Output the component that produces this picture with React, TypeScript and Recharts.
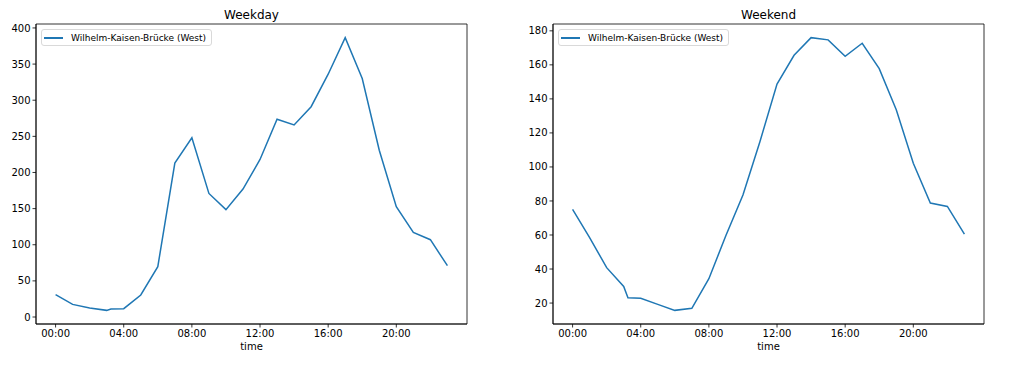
import React from "react";
import { LineChart, Line, XAxis, YAxis, Legend, ReferenceArea } from "recharts";

// ── Data ──────────────────────────────────────────────────────────────────────
const HOURS = [0, 1, 2, 3, 3.25, 4, 5, 6, 7, 8, 9, 10, 11, 12, 13, 14, 15, 16, 17, 18, 19, 20, 21, 22, 23];
const WEEKDAY = [31, 17.5, 12.5, 9.2, 11.2, 11.5, 30.5, 69.7, 213, 248, 171, 148.6, 177, 218, 273.6, 265.7, 291, 336, 386.6, 330, 230.7, 152.7, 117.2, 107, 71];
const WEEKEND = [75, 58.5, 40.8, 29.8, 23.1, 22.75, 19.2, 15.7, 16.9, 34.3, 59.7, 83.5, 115, 148.7, 165.6, 176, 174.7, 165, 172.7, 157.8, 133.6, 102.2, 78.8, 76.8, 60.5];
const X_TICKS = [0, 4, 8, 12, 16, 20];
const X_TICK_LABELS = ["00:00", "04:00", "08:00", "12:00", "16:00", "20:00"];
const WEEKDAY_Y_TICKS = [0, 50, 100, 150, 200, 250, 300, 350, 400];
const WEEKEND_Y_TICKS = [20, 40, 60, 80, 100, 120, 140, 160, 180];
const SERIES_NAME = "Wilhelm-Kaisen-Brücke (West)";

// ── Theme ─────────────────────────────────────────────────────────────────────
const FONT = "'DejaVu Sans', sans-serif";
const LINE_COLOR = "#1f77b4";
const AXIS = { stroke: "#000", strokeWidth: 0.8 };
const TICK = { fill: "#000", fontSize: 10, fontFamily: FONT };
const H = 371;
const PLOT_TOP = 24;
const PLOT_BOTTOM = 324;

// matplotlib-style 5% padding around the data range
function padDomain(values: number[]): [number, number] {
  const lo = Math.min(...values);
  const hi = Math.max(...values);
  const m = (hi - lo) * 0.05;
  return [lo - m, hi + m];
}

const X_DOMAIN = padDomain(HOURS);

function LegendBox() {
  return (
    <div
      style={{
        display: "flex",
        alignItems: "center",
        width: 171,
        height: 17,
        boxSizing: "border-box",
        border: "1px solid #d9d9d9",
        borderRadius: 3,
        background: "rgba(255,255,255,0.8)",
        fontFamily: FONT,
        fontSize: 9,
        color: "#000",
        whiteSpace: "nowrap",
      }}
    >
      <span style={{ display: "inline-block", width: 19, height: 2, background: LINE_COLOR, marginLeft: 2, marginRight: 8 }} />
      <span>{SERIES_NAME}</span>
    </div>
  );
}

function Panel({
  title,
  values,
  yTicks,
  left,
  width,
  yWidth,
  marginRight,
}: {
  title: string;
  values: number[];
  yTicks: number[];
  left: number;
  width: number;
  yWidth: number;
  marginRight: number;
}) {
  const data = HOURS.map((h, i) => ({ hour: h, value: values[i] }));
  const yDomain = padDomain(values);
  const plotCenter = yWidth + (width - yWidth - marginRight) / 2;

  return (
    <div style={{ position: "absolute", left, top: 0, width, height: H }}>
      <div
        style={{
          position: "absolute",
          left: plotCenter - 100,
          width: 200,
          top: 7,
          textAlign: "center",
          fontFamily: FONT,
          fontSize: 12,
          lineHeight: "16px",
          color: "#000",
        }}
      >
        {title}
      </div>
      <LineChart
        width={width}
        height={H}
        data={data}
        margin={{ top: PLOT_TOP, right: marginRight, bottom: H - PLOT_BOTTOM - 19, left: 0 }}
      >
        <XAxis
          dataKey="hour"
          type="number"
          domain={X_DOMAIN}
          ticks={X_TICKS}
          tickFormatter={(v: number) => X_TICK_LABELS[X_TICKS.indexOf(v)] ?? ""}
          axisLine={AXIS}
          tickLine={AXIS}
          tickSize={3.5}
          tick={TICK}
          height={19}
          allowDataOverflow
          label={{ value: "time", position: "bottom", offset: 0, fill: "#000", fontSize: 10, fontFamily: FONT }}
        />
        <YAxis
          type="number"
          domain={yDomain}
          ticks={yTicks}
          axisLine={AXIS}
          tickLine={AXIS}
          tickSize={3.5}
          tick={TICK}
          width={yWidth}
          allowDataOverflow
        />
        {/* full frame around the plot */}
        <ReferenceArea
          x1={X_DOMAIN[0]}
          x2={X_DOMAIN[1]}
          y1={yDomain[0]}
          y2={yDomain[1]}
          fill="none"
          fillOpacity={0}
          stroke="#000"
          strokeWidth={0.8}
          ifOverflow="extendDomain"
        />
        <Legend
          layout="horizontal"
          verticalAlign="middle"
          align="center"
          content={() => <LegendBox />}
          wrapperStyle={{ left: yWidth + 5, top: 29, width: 171, height: 17, right: "auto", bottom: "auto" }}
        />
        <Line
          type="linear"
          dataKey="value"
          name={SERIES_NAME}
          stroke={LINE_COLOR}
          strokeWidth={1.5}
          dot={false}
          activeDot={false}
          isAnimationActive={false}
        />
      </LineChart>
    </div>
  );
}

export default function App() {
  return (
    <div style={{ position: "absolute", left: 0, top: 0, width: 1017, height: H, background: "#fff" }}>
      <Panel title="Weekday" values={WEEKDAY} yTicks={WEEKDAY_Y_TICKS} left={0} width={480} yWidth={36} marginRight={13} />
      <Panel title="Weekend" values={WEEKEND} yTicks={WEEKEND_Y_TICKS} left={500} width={517} yWidth={53} marginRight={33} />
    </div>
  );
}
